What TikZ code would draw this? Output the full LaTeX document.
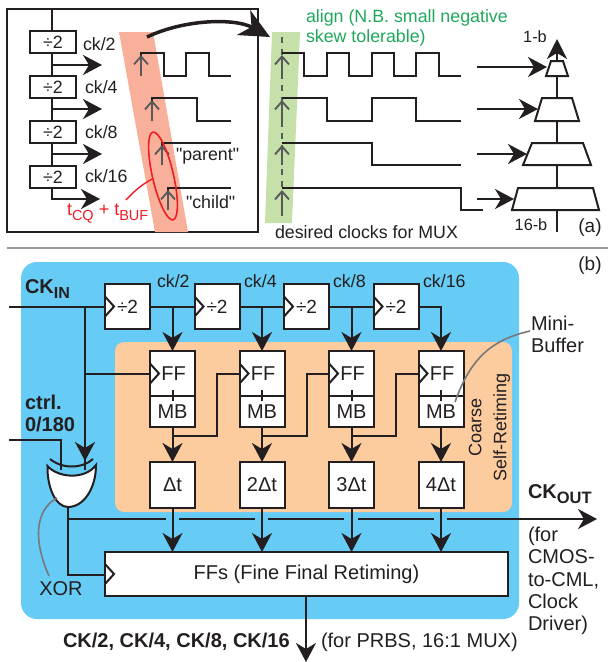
\documentclass[tikz,border=0pt]{standalone}
\usepackage{fontspec}
\setmainfont{Liberation Sans}
\newfontfamily\quotefont{Liberation Sans}[Ligatures=ResetAll]
\usetikzlibrary{arrows.meta,positioning,calc}
\definecolor{skyfill}{HTML}{66CBF5}
\definecolor{peachfill}{HTML}{FDCC9E}
\definecolor{salmonband}{HTML}{F9B09A}
\definecolor{greenband}{HTML}{C5E0A8}
\definecolor{aligntext}{HTML}{1FA85C}
\definecolor{inkblack}{HTML}{231F20}
\definecolor{edgemark}{HTML}{58595B}
\definecolor{leadgrey}{HTML}{77787B}
\definecolor{skewred}{HTML}{ED1C24}
\newcommand{\lowtxt}[3]{#1\raisebox{-0.28em}{\fontsize{#3}{#3}\selectfont #2}}

\begin{document}
\begin{tikzpicture}[
  x=1pt, y=-1pt, line width=2pt, draw=inkblack,
  every node/.style={text=inkblack, font=\fontsize{17.8}{21}\selectfont, inner sep=0pt},
  big/.style={font=\fontsize{20}{22.3}\selectfont},
  bold/.style={font=\fontsize{20}{22}\selectfont\bfseries},
  box/.style={draw=inkblack, fill=white, line width=2pt, inner sep=0pt, outer sep=0pt},
  divbox/.style={box, minimum width=46pt, minimum height=22pt},
  clkbox/.style={box, minimum width=45pt, minimum height=45pt},
  mbbox/.style={box, big, minimum width=45pt, minimum height=31pt},
  dtbox/.style={box, big, minimum width=45pt, minimum height=46pt},
  trap/.style={draw=inkblack, fill=white, line width=2pt},
  wave/.style={draw=inkblack, line width=1.8pt},
  pf/.style={-{Stealth[length=19pt, width=20pt, inset=6pt]}, draw=inkblack},
  up/.style={-{Straight Barb[length=8pt, width=14pt]}, draw=edgemark, line width=1.9pt},
  lead/.style={draw=leadgrey, line width=1.6pt},
  clk/.style={draw=inkblack, line width=2pt}
]
\useasboundingbox (0,0) rectangle (608,662);

% part (a)
\draw (7,9) rectangle (258,232);
\fill[salmonband] (119,32) -- (153,32) -- (188,232) -- (155,232) -- cycle;
\fill[greenband] (272,32) -- (300,32) -- (292,223) -- (265,223) -- cycle;
\node[divbox] (da) at (53,42) {÷2};
\node[divbox, below=23pt of da] (db) {÷2};
\node[divbox, below=23pt of db] (dc) {÷2};
\node[divbox, below=23pt of dc] (dd) {÷2};
\coordinate (top) at (52,9);
\coordinate (oa) at (102,65);
\coordinate (ob) at (102,109);
\coordinate (oc) at (102,154);
\coordinate (od) at (100,199);
\draw (top) -- (52,31);
\draw (52,53) -- (52,76);
\draw (52,98) -- (52,121);
\draw (52,143) -- (52,166);
\draw[pf] (52,65) -- (oa);
\draw[pf] (52,109) -- (ob);
\draw[pf] (52,154) -- (oc);
\draw[pf] (52,188) |- (od);
\node[anchor=west] at (82,44) {ck/2};
\node[anchor=west] at (84,87) {ck/4};
\node[anchor=west] at (84,132) {ck/8};
\node[anchor=west] at (84,176) {ck/16};

% early clocks
\draw[wave] (141,76) -- (141,53) -- (164,53) -- (164,76) -- (186,76) -- (186,53) -- (209,53) -- (209,76) -- (231,76);
\draw[wave] (152,121) -- (152,98) -- (197,98) -- (197,121) -- (231,121);
\draw[wave] (162,165) -- (162,143) -- (231,143);
\draw[wave] (168,210) -- (168,188) -- (231,188);
\draw[up] (141,76) -- (141,55);
\draw[up] (152,121) -- (152,100);
\draw[up] (162,165) -- (162,145);
\draw[up] (168,210) -- (168,190);
\node[anchor=west] at (175,156) {\quotefont "parent"};
\node[anchor=west] at (185,202) {\quotefont "child"};
\draw[skewred, line width=1.6pt, rotate around={13:(163,176)}] (163,176) ellipse (10.5pt and 45pt);
\draw[skewred, line width=1.4pt] (126,200) .. controls (135,190) and (143,184) .. (152,179);
\node[anchor=west, text=skewred, font=\fontsize{18}{21}\selectfont] (tcq) at (66,214) {\lowtxt{t}{CQ}{14.5} + \lowtxt{t}{BUF}{14.5}};
\coordinate (arcs) at (147,37);
\coordinate (arce) at (270,37);
\draw[line width=3.5pt, -{Stealth[length=30pt, width=28pt, inset=9pt]}] (arcs) .. controls (185,19) and (235,18) .. (arce);

% desired clocks
\node[anchor=west, text=aligntext] at (305,18) {align (N.B. small negative};
\node[anchor=west, text=aligntext] at (305,38) {skew tolerable)};
\draw[draw=edgemark, line width=1.8pt, dash pattern=on 6pt off 6pt] (282,37) -- (282,216);
\draw[wave] (282,53) -- (304,53) -- (304,76) -- (327,76) -- (327,53) -- (349,53) -- (349,76) -- (372,76) -- (372,53) -- (394,53) -- (394,76) -- (416,76) -- (416,53) -- (439,53) -- (439,76) -- (461,76);
\draw[wave] (282,98) -- (327,98) -- (327,121) -- (372,121) -- (372,98) -- (416,98) -- (416,121) -- (461,121);
\draw[wave] (282,143) -- (372,143) -- (372,165) -- (461,165);
\draw[wave] (282,188) -- (461,188) -- (461,210) -- (483,210);
\draw[up] (282,76) -- (282,55);
\draw[up] (282,121) -- (282,100);
\draw[up] (282,165) -- (282,145);
\draw[up] (282,216) -- (282,190);
\node[anchor=west] at (274,232) {desired clocks for MUX};

% mux tree
\coordinate (mtop) at (557,39);
\coordinate (mbot) at (557,232);
\draw[-{Stealth[length=20pt, width=20pt, inset=6pt]}] (mbot) -- (mtop);
\draw[trap] (551,61) -- (563,61) -- (568,76) -- (546,76) -- cycle;
\draw[trap] (542,98) -- (572,98) -- (579,121) -- (535,121) -- cycle;
\draw[trap] (532,143) -- (583,143) -- (591,165) -- (523,165) -- cycle;
\draw[trap] (518,188) -- (593,188) -- (599,210) -- (512,210) -- cycle;
\draw[pf] (477,67) -- (547,67);
\draw[pf] (477,109) -- (538,109);
\draw[pf] (477,154) -- (527,154);
\draw[pf] (477,199) -- (514,199);
\node[font=\fontsize{16.3}{18}\selectfont] at (535,37) {1-b};
\node[font=\fontsize{16.3}{18}\selectfont] at (531,225) {16-b};
\node[font=\fontsize{19}{21}\selectfont] at (590,228) {(a)};
\draw[draw=gray!80, line width=2pt] (7,248) -- (608,248);

% part (b)
\node[font=\fontsize{19}{21}\selectfont] at (590,266) {(b)};
\fill[skyfill, rounded corners=16pt] (21,262) rectangle (519,619);
\fill[peachfill, rounded corners=9pt] (115,342) rectangle (512,512);

\node[clkbox, font=\fontsize{19}{21}\selectfont] (diva) at (127.5,306.5) {÷2};
\node[clkbox, font=\fontsize{19}{21}\selectfont, right=44.5pt of diva] (divb) {÷2};
\node[clkbox, font=\fontsize{19}{21}\selectfont, right=44.5pt of divb] (divc) {÷2};
\node[clkbox, font=\fontsize{19}{21}\selectfont, right=44.5pt of divc] (divd) {÷2};
\node[clkbox, big] (ffa) at (172.5,373.5) {\hspace{2pt}FF};
\node[clkbox, big, right=44.5pt of ffa] (ffb) {\hspace{2pt}FF};
\node[clkbox, big, right=44.5pt of ffb] (ffc) {\hspace{2pt}FF};
\node[clkbox, big, right=44.5pt of ffc] (ffd) {\hspace{2pt}FF};
\node[mbbox, below=0pt of ffa] (mba) {MB};
\node[mbbox, below=0pt of ffb] (mbb) {MB};
\node[mbbox, below=0pt of ffc] (mbc) {MB};
\node[mbbox, below=0pt of ffd] (mbd) {MB};
\node[dtbox, below=35pt of mba] (dta) {Δt};
\node[dtbox, below=35pt of mbb] (dtb) {2Δt};
\node[dtbox, below=35pt of mbc] (dtc) {3Δt};
\node[dtbox, below=35pt of mbd] (dtd) {4Δt};
\node[box, big, minimum width=403pt, minimum height=44pt] (ffs) at (306.5,574) {FFs (Fine Final Retiming)};

\coordinate (ckin) at (9,306.5);
\coordinate (ctrl) at (9,440);
\coordinate (ckout) at (597,519);
\coordinate (ckdiv) at (306,662);

\draw (ckin) -- (diva.west);
\draw (diva) -- (divb);
\draw (divb) -- (divc);
\draw (divc) -- (divd);
\draw[pf] (ffa.north |- diva) -- (ffa.north);
\draw[pf] (ffb.north |- divb) -- (ffb.north);
\draw[pf] (ffc.north |- divc) -- (ffc.north);
\draw[pf] (divd.east) -| (ffd.north);
\draw (85,306.5) |- (ffa.west);
\draw (mba.south |- 0,436) -| (217,373.5) -- (ffb.west);
\draw (mbb.south |- 0,436) -| (307,373.5) -- (ffc.west);
\draw (mbc.south |- 0,436) -| (396,373.5) -- (ffd.west);
\draw[pf] (mba) -- (dta);
\draw[pf] (mbb) -- (dtb);
\draw[pf] (mbc) -- (dtc);
\draw[pf] (mbd) -- (dtd);
\draw[pf] (dta) -- (ffs.north -| dta);
\draw[pf] (dtb) -- (ffs.north -| dtb);
\draw[pf] (dtc) -- (ffs.north -| dtc);
\draw[pf] (dtd) -- (ffs.north -| dtd);
\draw[pf] (ffs.south -| ckdiv) -- (ckdiv);

% clock chevrons and the ticks inside the registers
\foreach \n in {diva,divb,divc,divd,ffa,ffb,ffc,ffd,ffs} {
  \draw[clk] ($(\n.west)+(0,-10)$) -- ($(\n.west)+(9,0)$) -- ($(\n.west)+(0,10)$);
}
\foreach \n in {a,b,c,d} {
  \draw (ff\n.south) ++(0,-6) -- ++(0,11);
}

% xor gate
\coordinate (xa) at (85,470);
\coordinate (xb) at (61,470);
\coordinate (xout) at (68,507);
\draw[pf] (85,306.5) -- (85,461);
\draw (85,455) -- (xa);
\draw (ctrl) -| (xb);
\draw[fill=white] (47.5,466) .. controls (58,478) and (85,480) .. (96,465)
  .. controls (96,488) and (84,507) .. (xout) .. controls (56,507) and (47,488) .. (47.5,466) -- cycle;
\draw (50,459) .. controls (62,469) and (82,469) .. (93,459);
\draw (xout) -- (68,575) -- (ffs.west |- 0,575);

% output bus
\draw (68,519) -- (166,519);
\draw (179,519) -- (255,519);
\draw (268,519) -- (344,519);
\draw (358,519) -- (434,519);
\draw[pf] (447,519) -- (ckout);

% labels
\node[anchor=west, bold] at (24,289) {\lowtxt{CK}{IN}{16}};
\node[anchor=west, bold, align=left] at (24,413) {ctrl.\\0/180};
\node[anchor=west] at (156,281) {ck/2};
\node[anchor=west] at (243,281) {ck/4};
\node[anchor=west] at (332,281) {ck/8};
\node[anchor=west] at (422,281) {ck/16};
\node[anchor=west, align=left, big] at (530,334) {Mini-\\Buffer};
\draw[lead] (530,331) .. controls (490,340) and (470,360) .. (455,402);
\node[rotate=90, align=center, font=\fontsize{18}{25}\selectfont] at (489.5,427) {Coarse\\Self-Retiming};
\node[anchor=west, bold] at (527,494) {\lowtxt{CK}{OUT}{16.5}};
\node[anchor=north west, align=left, big] at (527,526) {(for\\CMOS-\\to-CML,\\Clock\\Driver)};
\node[anchor=west, bold] at (62,642) {CK/2, CK/4, CK/8, CK/16};
\node[anchor=west, big] at (320,642) {(for PRBS, 16:1 MUX)};
\node[big] at (61,589) {XOR};
\draw[lead] (57,498) .. controls (35,510) and (33,540) .. (49,576);
\end{tikzpicture}
\end{document}
